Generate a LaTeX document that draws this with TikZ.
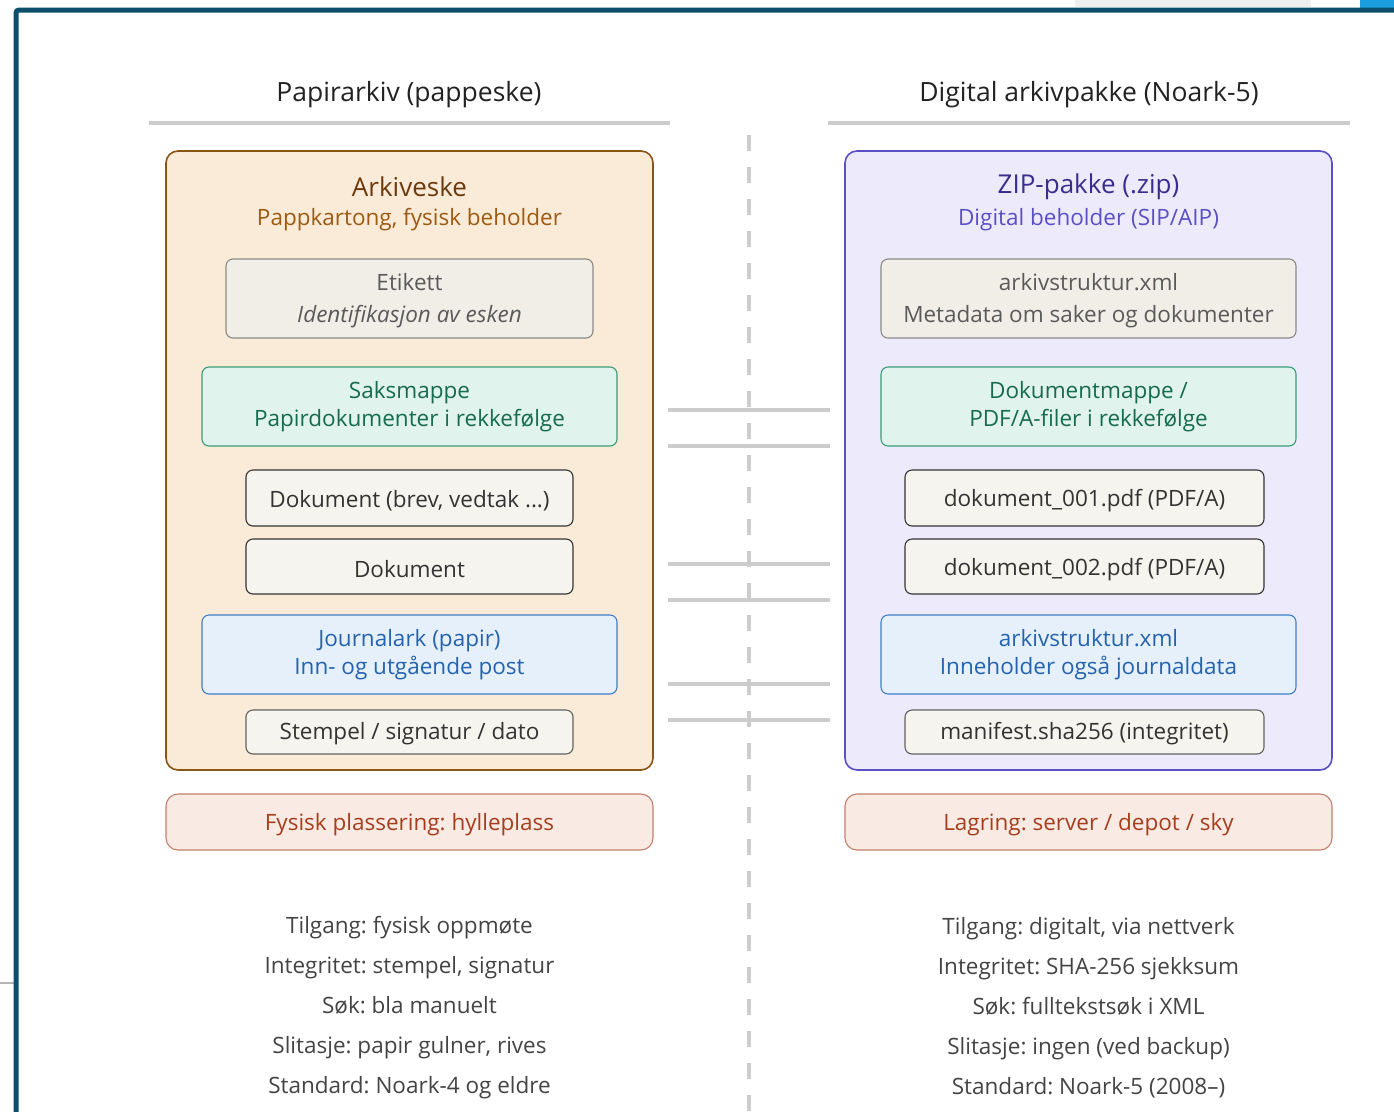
\documentclass[tikz,border=0pt]{standalone}
\usepackage{fontspec}
\setmainfont{Open Sans}
\frenchspacing
\definecolor{frame}{HTML}{0B4F6C}
\definecolor{hdr}{HTML}{222222}
\definecolor{rule}{HTML}{CCCCCC}
\definecolor{boxfill}{HTML}{FAEBD8}
\definecolor{boxdraw}{HTML}{8B5516}
\definecolor{boxtitle}{HTML}{6B3A0E}
\definecolor{boxsub}{HTML}{9C5A12}
\definecolor{zipfill}{HTML}{EDEBFB}
\definecolor{zipdraw}{HTML}{5A4FC4}
\definecolor{ziptitle}{HTML}{3A2D8C}
\definecolor{zipsub}{HTML}{5A4FC4}
\definecolor{labfill}{HTML}{F1EEE7}
\definecolor{labdraw}{HTML}{8A8A86}
\definecolor{labtext}{HTML}{5A5A5A}
\definecolor{grnfill}{HTML}{E0F3EC}
\definecolor{grndraw}{HTML}{3A9C7A}
\definecolor{grntext}{HTML}{176B4E}
\definecolor{docfill}{HTML}{F5F4EE}
\definecolor{docdraw}{HTML}{333333}
\definecolor{doctext}{HTML}{333333}
\definecolor{blufill}{HTML}{E5F0FB}
\definecolor{bludraw}{HTML}{3E7FC6}
\definecolor{blutext}{HTML}{2563AE}
\definecolor{redfill}{HTML}{F9EAE4}
\definecolor{reddraw}{HTML}{C2806B}
\definecolor{redtext}{HTML}{A63E1E}
\definecolor{btext}{HTML}{444444}
\definecolor{tabgray}{HTML}{EFEFEF}
\definecolor{tabblue}{HTML}{1A9EE0}
\tikzset{
  container/.style={rectangle, rounded corners=12pt, line width=1.6pt, inner sep=0pt},
  innerbox/.style={rectangle, rounded corners=7pt, line width=1.1pt, inner sep=0pt, align=center, font=\fontsize{22.5}{28}\selectfont},
  labbox/.style={innerbox, fill=labfill, draw=labdraw, text=labtext, font=\fontsize{22.5}{32}\selectfont},
  grnbox/.style={innerbox, fill=grnfill, draw=grndraw, text=grntext},
  docbox/.style={innerbox, fill=docfill, draw=docdraw, text=doctext},
  blubox/.style={innerbox, fill=blufill, draw=bludraw, text=blutext},
  redbox/.style={rectangle, rounded corners=12pt, line width=1.1pt, inner sep=0pt, fill=redfill, draw=reddraw, text=redtext, font=\fontsize{22.5}{28}\selectfont},
  header/.style={text=hdr, font=\fontsize{26.5}{30}\selectfont},
  ctitle/.style={font=\fontsize{26}{28}\selectfont},
  csub/.style={font=\fontsize{22.5}{28}\selectfont},
  facts/.style={text=btext, align=center, font=\fontsize{22.5}{40}\selectfont},
  sepline/.style={draw=rule, line width=4pt},
  link/.style={draw=rule, line width=3.5pt},
}
\begin{document}
\begin{tikzpicture}[x=1pt,y=-1pt]
\useasboundingbox (0,0) rectangle (1394,1111);
\fill[white] (0,0) rectangle (1394,1111);
% window artifacts
\fill[tabgray] (1075,0) rectangle (1311,7);
\fill[tabblue] (1360,0) rectangle (1394,8);
\draw[rule!70!gray, line width=1.5pt] (0,983) -- (14,983);
% frame
\draw[frame, line width=5pt, rounded corners=3pt] (16,1115) -- (16,10) -- (1400,10);
% headers
\node[header] (hl) at (409,95) {Papirarkiv (pappeske)};
\node[header] (hr) at (1089,95) {Digital arkivpakke (Noark-5)};
\coordinate (ul1) at (149,123); \coordinate (ul2) at (670,123);
\coordinate (ur1) at (828,123); \coordinate (ur2) at (1350,123);
\draw[sepline] (ul1) -- (ul2);
\draw[sepline] (ur1) -- (ur2);
% divider
\coordinate (dv1) at (749,135); \coordinate (dv2) at (749,1111);
\draw[draw=rule, line width=4pt, dash pattern=on 16pt off 16pt] (dv1) -- (dv2);
% containers
\node[container, fill=boxfill, draw=boxdraw, minimum width=487pt, minimum height=619pt] (lbox) at (409.5,460.5) {};
\node[container, fill=zipfill, draw=zipdraw, minimum width=487pt, minimum height=619pt] (rbox) at (1088.5,460.5) {};
\node[ctitle, text=boxtitle] (lt) at (409.5,187) {Arkiveske};
\node[csub, text=boxsub] (ls) at (409.5,220) {Pappkartong, fysisk beholder};
\node[ctitle, text=ziptitle] (rt) at (1088.5,187) {ZIP-pakke (.zip)};
\node[csub, text=zipsub] (rs) at (1088.5,220) {Digital beholder (SIP/AIP)};
% left inner
\node[labbox, minimum width=367pt, minimum height=79pt] (etikett) at (409.5,298.5) {};
\node[text=labtext, font=\fontsize{22.5}{32}\selectfont, align=center] (etikettT) at (409.5,301) {Etikett\\\itshape Identifikasjon av esken};
\node[grnbox, minimum width=415pt, minimum height=79pt] (saks) at (409.5,406.5) {};
\node[text=grntext, font=\fontsize{22.5}{28}\selectfont, align=center] (saksT) at (409.5,406.5) {Saksmappe\\Papirdokumenter i rekkefølge};
\node[docbox, minimum width=327pt, minimum height=56pt] (dok1) at (409.5,498) {};
\node[text=doctext, font=\fontsize{22.5}{28}\selectfont] (dok1T) at (409.5,501) {Dokument (brev, vedtak ...)};
\node[docbox, minimum width=327pt, minimum height=55pt] (dok2) at (409.5,566.5) {};
\node[text=doctext, font=\fontsize{22.5}{28}\selectfont] (dok2T) at (409.5,569.5) {Dokument};
\node[blubox, minimum width=415pt, minimum height=79pt] (journal) at (409.5,654.5) {};
\node[text=blutext, font=\fontsize{22.5}{28}\selectfont, align=center] (journalT) at (409.5,654.5) {Journalark (papir)\\Inn- og utgående post};
\node[docbox, draw=labdraw!70!black, minimum width=327pt, minimum height=44pt] (stempel) at (409.5,732) {};
\node[text=doctext, font=\fontsize{22.5}{28}\selectfont] (stempelT) at (409.5,734) {Stempel / signatur / dato};
% right inner
\node[labbox, minimum width=415pt, minimum height=79pt] (xml1) at (1088.5,298.5) {};
\node[text=labtext, font=\fontsize{22.5}{32}\selectfont, align=center] (xml1T) at (1088.5,301) {arkivstruktur.xml\\Metadata om saker og dokumenter};
\node[grnbox, minimum width=415pt, minimum height=79pt] (dmappe) at (1088.5,406.5) {};
\node[text=grntext, font=\fontsize{22.5}{28}\selectfont, align=center] (dmappeT) at (1088.5,406.5) {Dokumentmappe /\\PDF/A-filer i rekkefølge};
\node[docbox, minimum width=359pt, minimum height=56pt] (pdf1) at (1084.5,498) {};
\node[text=doctext, font=\fontsize{22.5}{28}\selectfont] (pdf1T) at (1084.5,501) {dokument\_001.pdf (PDF/A)};
\node[docbox, minimum width=359pt, minimum height=55pt] (pdf2) at (1084.5,566.5) {};
\node[text=doctext, font=\fontsize{22.5}{28}\selectfont] (pdf2T) at (1084.5,569.5) {dokument\_002.pdf (PDF/A)};
\node[blubox, minimum width=415pt, minimum height=79pt] (xml2) at (1088.5,654.5) {};
\node[text=blutext, font=\fontsize{22.5}{28}\selectfont, align=center] (xml2T) at (1088.5,654.5) {arkivstruktur.xml\\Inneholder også journaldata};
\node[docbox, draw=labdraw!70!black, minimum width=359pt, minimum height=44pt] (manifest) at (1084.5,732) {};
\node[text=doctext, font=\fontsize{22.5}{28}\selectfont] (manifestT) at (1084.5,734) {manifest.sha256 (integritet)};
% storage
\node[redbox, minimum width=487pt, minimum height=56pt] (lstore) at (409.5,822) {};
\node[text=redtext, font=\fontsize{22.5}{28}\selectfont] (lstoreT) at (409.5,825) {Fysisk plassering: hylleplass};
\node[redbox, minimum width=487pt, minimum height=56pt] (rstore) at (1088.5,822) {};
\node[text=redtext, font=\fontsize{22.5}{28}\selectfont] (rstoreT) at (1088.5,825) {Lagring: server / depot / sky};
% link lines
\foreach \yy/\nm in {410/a,446/b,564/c,600/d,684/e,720/f}{
  \coordinate (la\nm) at (668,\yy); \coordinate (lb\nm) at (830,\yy);
  \draw[link] (la\nm) -- (lb\nm);
}
% facts
\node[facts] (lfacts) at (409.5,1008) {Tilgang: fysisk oppmøte\\Integritet: stempel, signatur\\Søk: bla manuelt\\Slitasje: papir gulner, rives\\Standard: Noark-4 og eldre};
\node[facts] (rfacts) at (1088.5,1008) {Tilgang: digitalt, via nettverk\\Integritet: SHA-256 sjekksum\\Søk: fulltekstsøk i XML\\Slitasje: ingen (ved backup)\\Standard: Noark-5 (2008–)};
\end{tikzpicture}
\end{document}
